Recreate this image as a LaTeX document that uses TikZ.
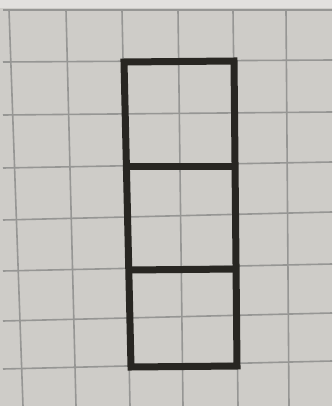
\documentclass[tikz,border=0pt]{standalone}
\begin{document}
\begin{tikzpicture}[x=1pt,y=-1pt,
  gridline/.style={draw=gridgray,line width=1.6pt},
  penline/.style={draw=inkdark,line width=7pt,line join=miter,line cap=rect}]
\definecolor{paper}{RGB}{206,204,200}
\definecolor{gridgray}{RGB}{150,150,148}
\definecolor{inkdark}{RGB}{40,38,34}
\useasboundingbox (0,0) rectangle (332,406);
\fill[paper] (0,0) rectangle (332,406);
\fill[paper!60!white] (0,0) rectangle (332,8);
% vertical grid lines
\foreach \a/\b in {9/23,66/76,122/130,178/183,233/238,286/289}
  \draw[gridline] (\a,10) -- (\b,406);
% horizontal grid lines
\foreach \a/\b in {10/10,62/60,115/112,168/162,220/212,271/264,321/313,369/361}
  \draw[gridline] (3,\a) -- (332,\b);
% drawn figure
\coordinate (tl) at (124,62);
\coordinate (tr) at (234,61);
\coordinate (bl) at (131,367);
\coordinate (br) at (237,366);
\coordinate (m1l) at (127,166);
\coordinate (m1r) at (235,166);
\coordinate (m2l) at (129,270);
\coordinate (m2r) at (236,269);
\draw[penline] (tl) -- (tr) -- (br) -- (bl) -- cycle;
\draw[penline,line cap=butt] (m1l) -- (m1r);
\draw[penline,line cap=butt] (m2l) -- (m2r);
\end{tikzpicture}
\end{document}
